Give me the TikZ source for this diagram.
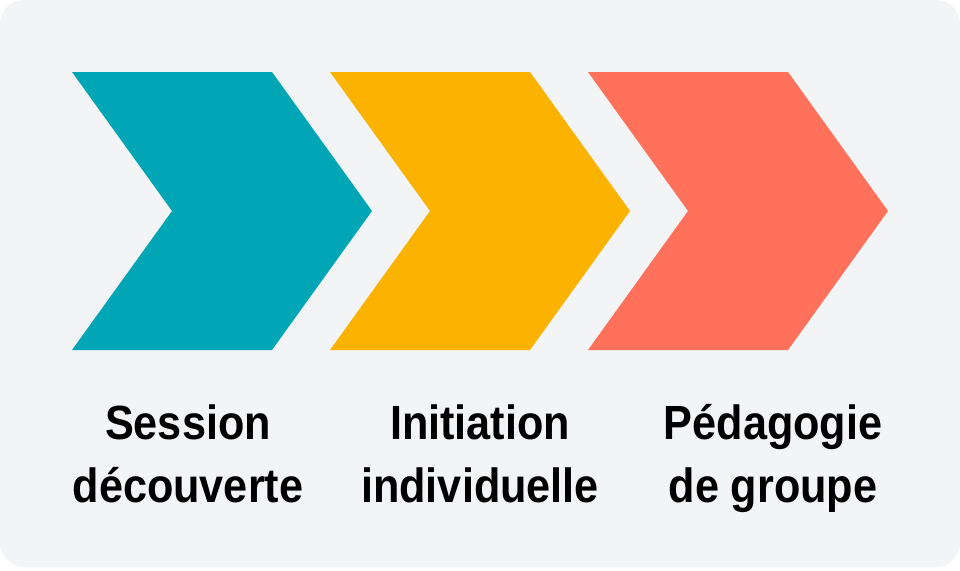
\documentclass[tikz,border=0pt]{standalone}
\usepackage{fontspec}
\setmainfont{Liberation Sans}[FakeStretch=0.9]
\definecolor{bgc}{HTML}{F3F4F6}
\definecolor{tealc}{HTML}{00A6B6}
\definecolor{amberc}{HTML}{FBB201}
\definecolor{coralc}{HTML}{FF715A}
\tikzset{
  chev/.style={draw=none},
  lbl/.style={font=\fontsize{48}{63}\selectfont\bfseries, align=center, anchor=base, inner sep=0pt, text=black}
}
\begin{document}
\begin{tikzpicture}[x=1pt,y=-1pt]
\useasboundingbox (0,0) rectangle (960,570);
\fill[white] (0,0) rectangle (960,570);
\fill[bgc, rounded corners=24pt] (0,0) rectangle (960,567);
\foreach \dx/\c in {0/tealc,258/amberc,516/coralc}{
  \fill[chev, fill=\c] (72+\dx,72) -- (272+\dx,72) -- (372+\dx,211) -- (272+\dx,350) -- (72+\dx,350) -- (172+\dx,211) -- cycle;
}
\node[lbl] (l1) at (188,502) {Session\\découverte};
\node[lbl] (l2) at (480,502) {Initiation\\individuelle};
\node[lbl] (l3) at (773,502) {Pédagogie\\de groupe};
\end{tikzpicture}
\end{document}
